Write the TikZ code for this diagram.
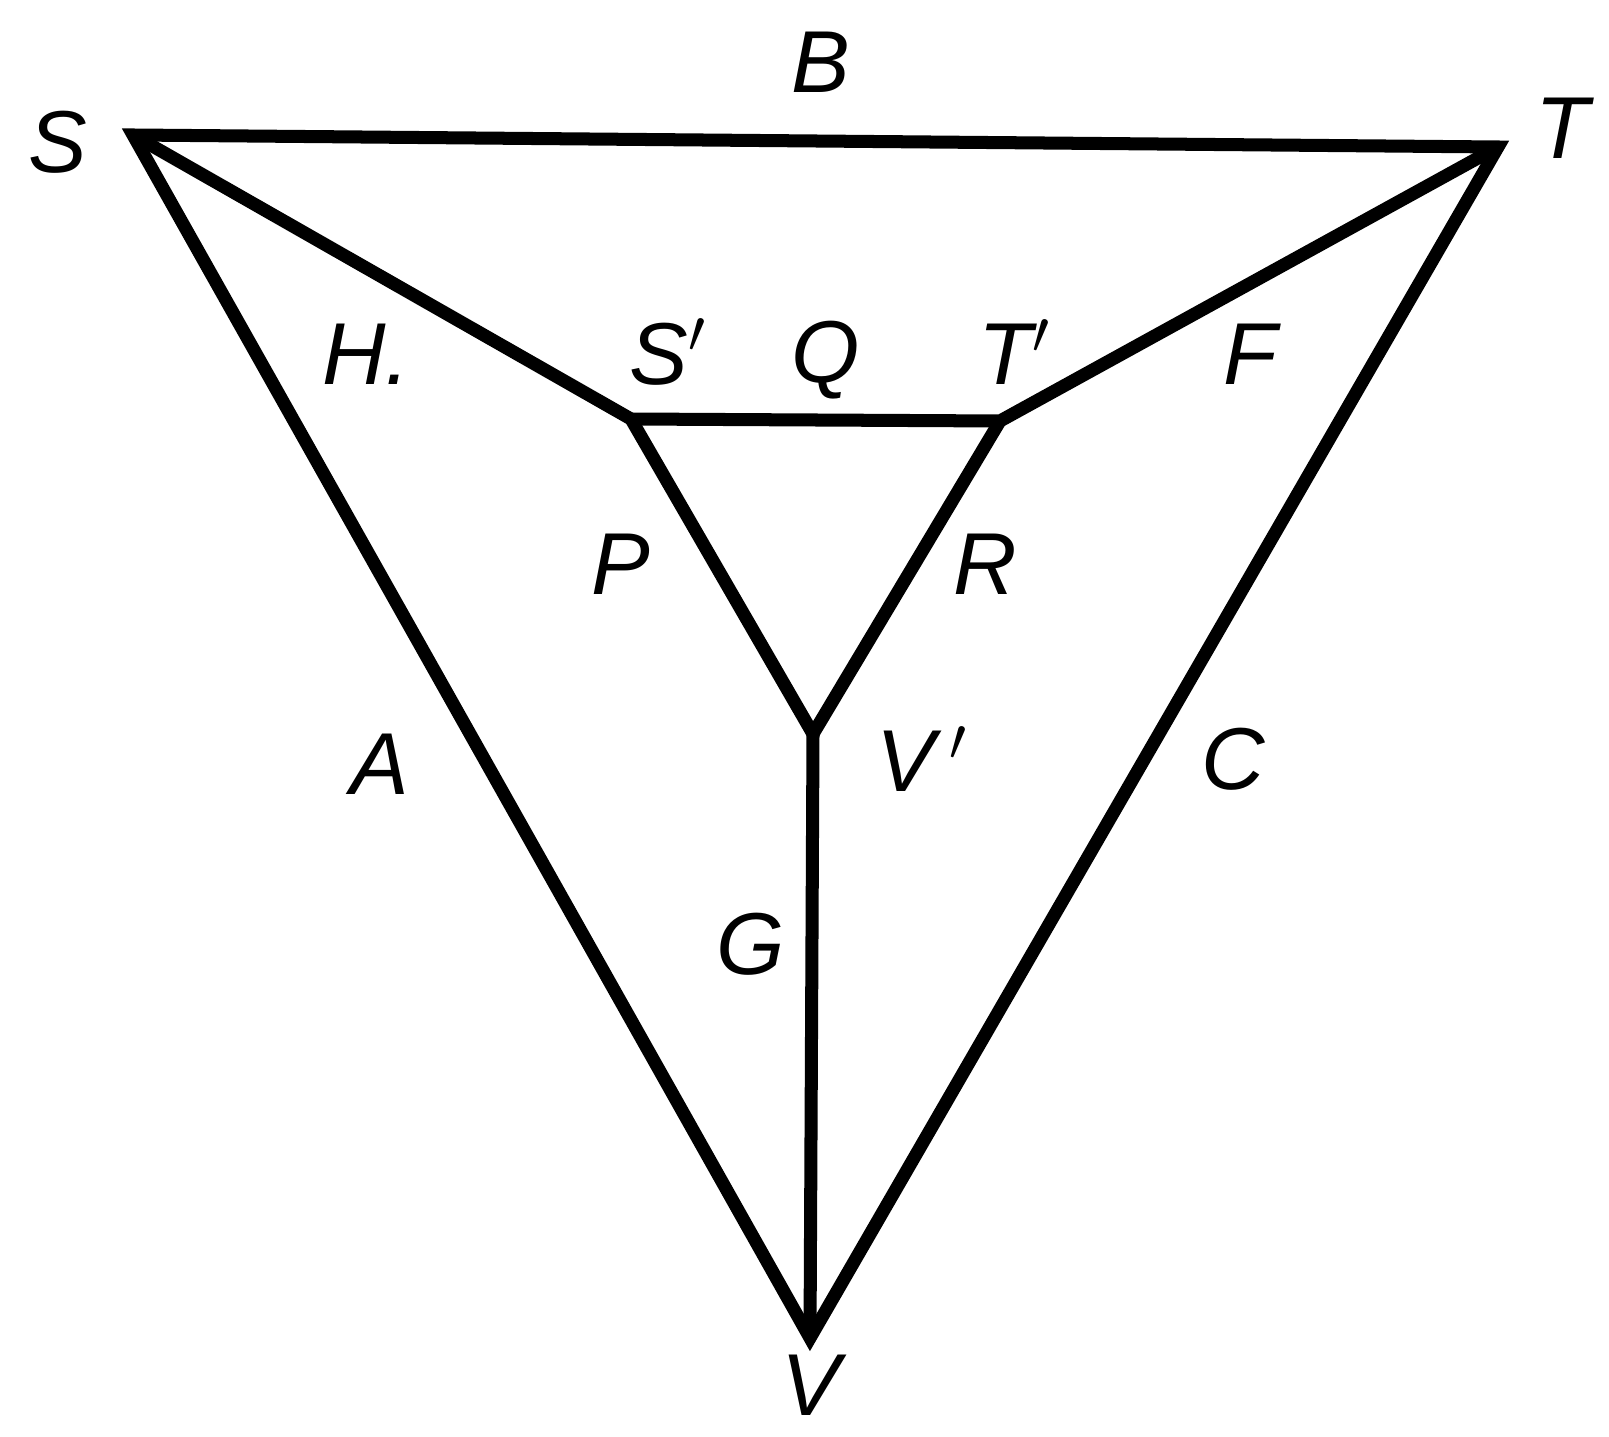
\documentclass[tikz,border=0pt]{standalone}
\usepackage{fontspec}
\setmainfont{Liberation Sans}
\begin{document}
\begin{tikzpicture}[x=0.01cm,y=-0.01cm,
  edge/.style={line width=3.7pt,line join=miter,miter limit=30},
  lbl/.style={font=\fontsize{25}{30}\selectfont\itshape,inner sep=0pt}]
\useasboundingbox (0,0) rectangle (1609,1437);
\coordinate (S) at (133,135);
\coordinate (T) at (1498,147);
\coordinate (V) at (810,1338);
\coordinate (Sp) at (631,419);
\coordinate (Tp) at (1000,421);
\coordinate (Vp) at (813,734);
\draw[edge] (S) -- (T) -- (V) -- cycle;
\draw[edge] (S) -- (Sp) -- (Tp) -- (T);
\draw[edge] (Sp) -- (Vp) -- (Tp);
\draw[edge] (Vp) -- (V);
\node[lbl] (lB) at (821,62) {B};
\node[lbl] (lS) at (58,142) {S};
\node[lbl] (lT) at (1562,128) {T};
\node[lbl] (lH) at (366,354) {H.};
\node[lbl] (lSp) at (668,352) {S$'$};
\node[lbl] (lQ) at (826,360) {Q};
\node[lbl] (lTp) at (1015,352) {T$'$};
\node[lbl] (lF) at (1250,354) {F};
\node[lbl] (lP) at (621,564) {P};
\node[lbl] (lR) at (985,564) {R};
\node[lbl] (lVp) at (922,759) {V\,$'$};
\node[lbl] (lA) at (380,764) {A};
\node[lbl] (lC) at (1233,759) {C};
\node[lbl] (lG) at (751,944) {G};
\node[lbl] (lV) at (811,1385) {V};
\end{tikzpicture}
\end{document}
